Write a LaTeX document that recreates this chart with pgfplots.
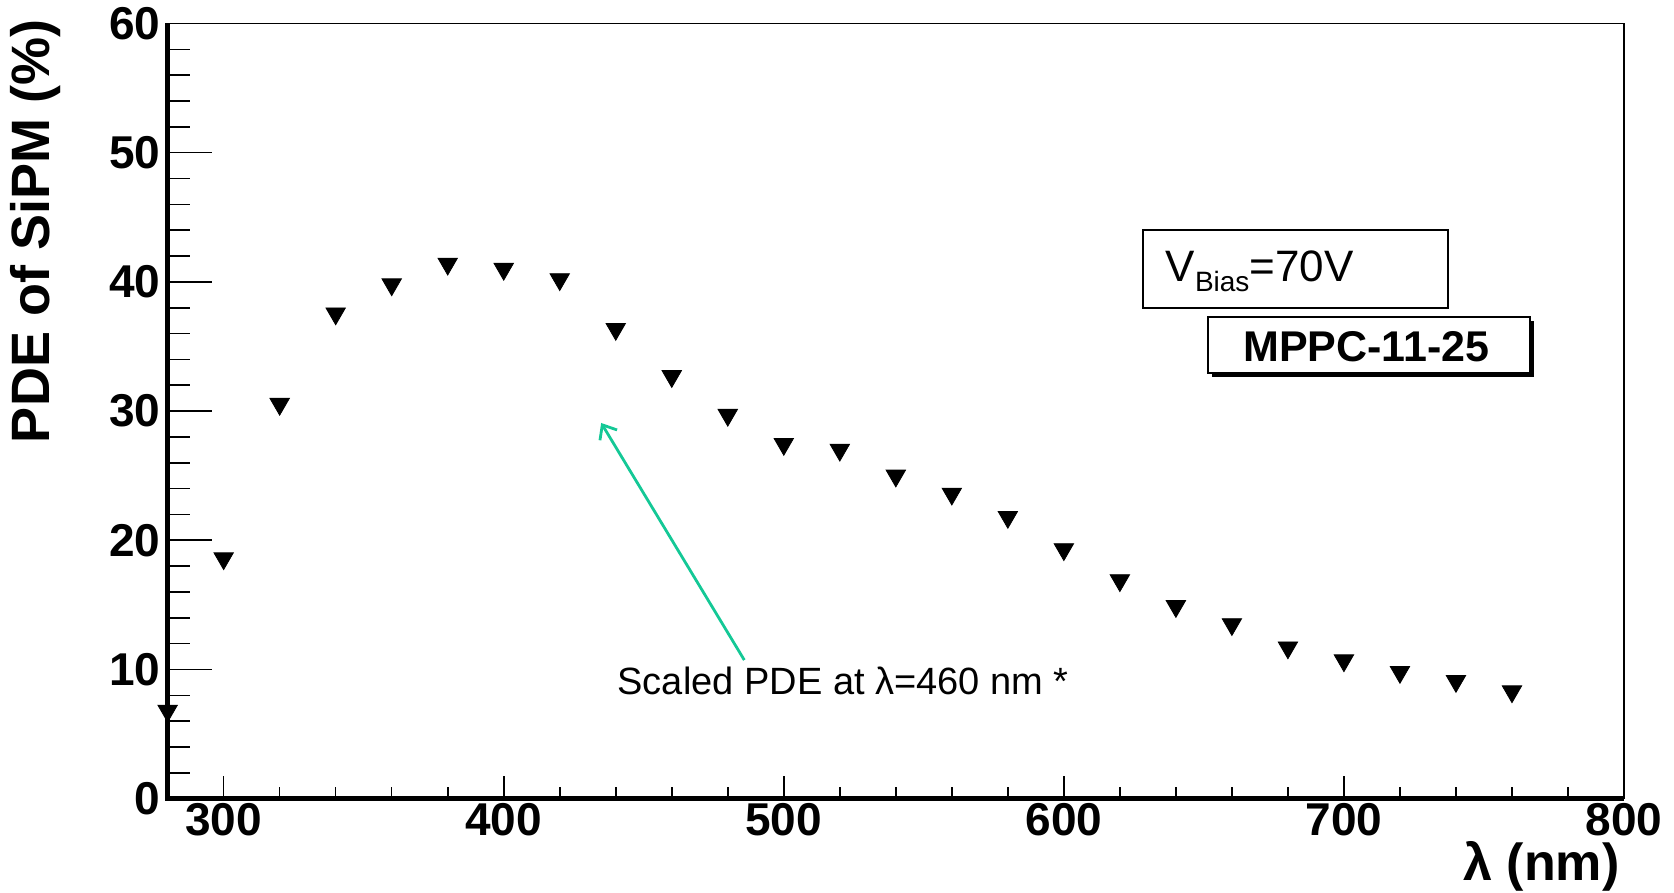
\documentclass[border=0pt]{standalone}
\usepackage{fontspec}
\setmainfont{Liberation Sans}
\usepackage{pgfplots}
\pgfplotsset{compat=1.18}
\usetikzlibrary{arrows.meta}
\definecolor{arrowgreen}{RGB}{20,200,150}
\begin{document}
\begin{tikzpicture}
\pgfplotsset{
  commonax/.style={
    scale only axis, width=728pt, height=387.5pt,
    xmin=280, xmax=800, ymin=0, ymax=60,
    tick align=inside,
    axis line style={line width=0.8pt},
    tick style={line width=0.8pt, black},
    ticklabel style={font=\fontsize{23}{24}\selectfont\bfseries},
    /pgf/number format/assume math mode=true,
    clip=false,
  }
}
\begin{axis}[commonax,
  xtick={300,400,...,800}, ytick=\empty,
  minor x tick num=4,
  xtick pos=bottom,
  major tick length=11.5pt, minor tick length=6pt,
  xticklabel style={yshift=1pt},
]
\addplot[only marks, mark=triangle*, mark size=5.6pt,
  mark options={rotate=180, fill=black, draw=black}] coordinates {
(280,6.8) (300,18.6) (320,30.55) (340,37.55) (360,39.8) (380,41.4)
(400,41.0) (420,40.2) (440,36.35) (460,32.7) (480,29.7) (500,27.45)
(520,27.0) (540,25.0) (560,23.6) (580,21.8) (600,19.3) (620,16.9)
(640,14.9) (660,13.5) (680,11.7) (700,10.7) (720,9.8) (740,9.1) (760,8.3)
};
\draw[line width=2.2pt] (rel axis cs:0,1) -- (rel axis cs:0,0) -- (rel axis cs:1,0);
% V_Bias box
\draw[line width=1pt, fill=white] (axis cs:628.4,44.0) rectangle (axis cs:737.3,37.96);
\node[anchor=base west, inner sep=0pt, font=\fontsize{22}{22}\selectfont]
  at (axis cs:636.2,40.0) {V\raisebox{-5pt}{\fontsize{14}{14}\selectfont Bias}=70V};
% MPPC box with shadow
\fill[black] ([xshift=2pt,yshift=-2pt]axis cs:651.6,37.3) rectangle ([xshift=2pt,yshift=-2pt]axis cs:766.6,32.96);
\draw[line width=1pt, fill=white] (axis cs:651.6,37.3) rectangle (axis cs:766.6,32.96);
\node[anchor=base, inner sep=0pt, font=\fontsize{21.5}{22}\selectfont\bfseries]
  at (axis cs:708,33.82) {MPPC-11-25};
% arrow and annotation
\draw[arrowgreen, line width=1.4pt, -{Straight Barb[length=6pt,width=10pt]}]
  (axis cs:485.9,10.73) -- (axis cs:434.8,29.08);
\node[anchor=base, inner sep=0pt, font=\fontsize{19}{19}\selectfont]
  at (axis cs:521.2,8.1) {Scaled PDE at λ=460 nm *};
\end{axis}
\begin{axis}[commonax,
  xtick=\empty, ytick={0,10,...,60},
  minor y tick num=4,
  ytick pos=left,
  major tick length=22pt, minor tick length=11pt,
]
\addplot[draw=none] coordinates {(280,0)};
\draw[line width=2.2pt] (rel axis cs:0,1) -- (rel axis cs:0,0) -- (rel axis cs:1,0);
\end{axis}
\node[rotate=90, anchor=east, inner sep=0pt, font=\fontsize{27}{28}\selectfont\bfseries]
  at ([xshift=-66pt,yshift=2pt]current axis.north west) {PDE of SiPM (\%)};
\node[anchor=east, inner sep=0pt, font=\fontsize{26}{27}\selectfont\bfseries]
  at ([xshift=-2pt,yshift=-34pt]current axis.south east) {λ (nm)};
\pgfresetboundingbox
\path ([shift={(-83.8pt,-46.7pt)}]current axis.south west) rectangle ([shift={(25pt,11.75pt)}]current axis.north east);
\end{tikzpicture}
\end{document}
